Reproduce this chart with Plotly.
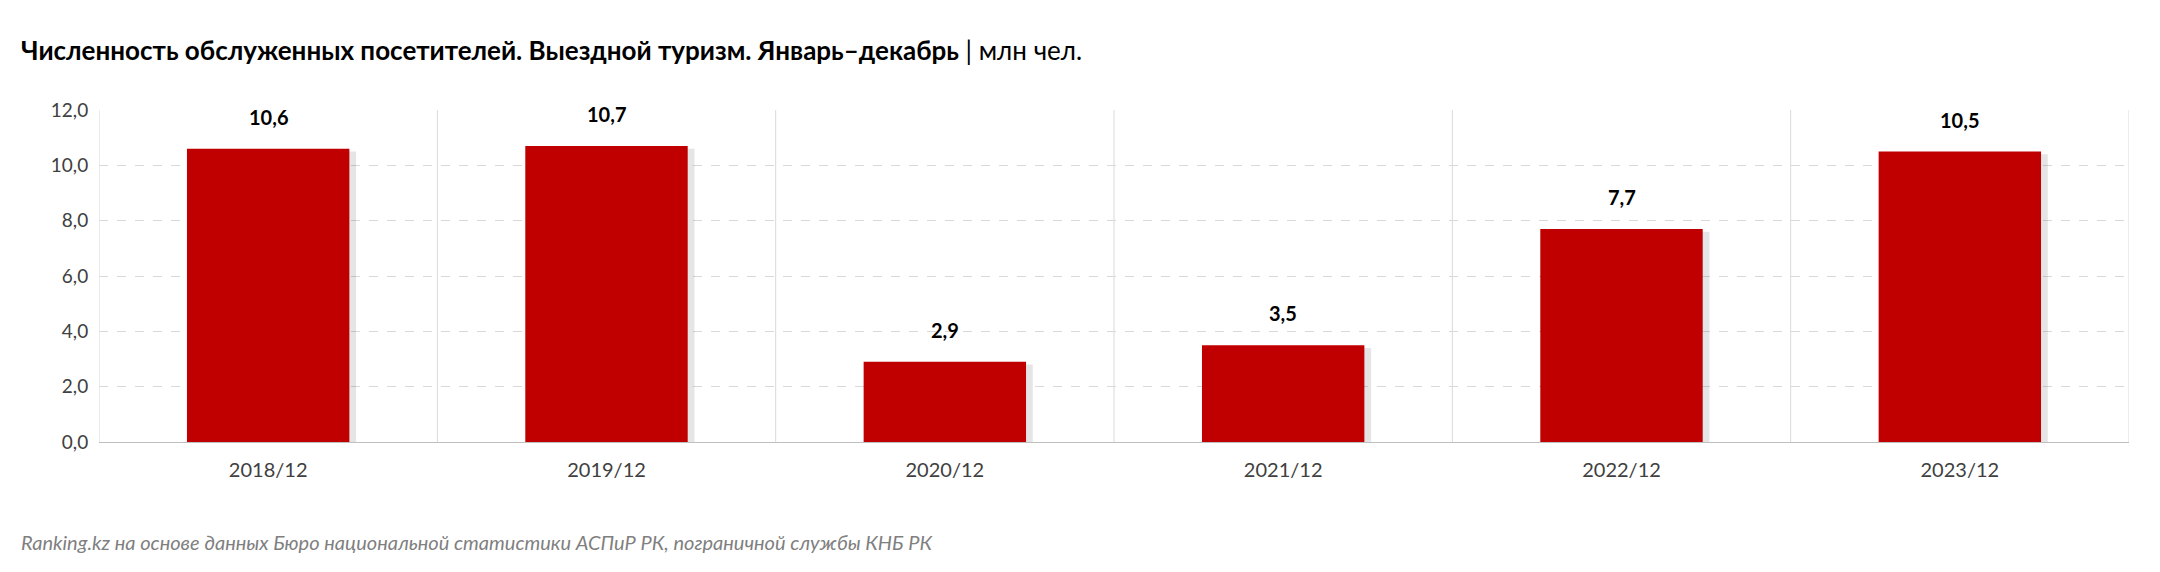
import plotly.graph_objects as go

categories = ["2018/12", "2019/12", "2020/12", "2021/12", "2022/12", "2023/12"]
values = [10.6, 10.7, 2.9, 3.5, 7.7, 10.5]
labels = ["10,6", "10,7", "2,9", "3,5", "7,7", "10,5"]
yticks = [0, 2, 4, 6, 8, 10, 12]
ytext = ["0,0", "2,0", "4,0", "6,0", "8,0", "10,0", "12,0"]

FONT = "Lato, Open Sans, sans-serif"
fig = go.Figure()
xs = list(range(len(categories)))
fig.add_trace(go.Bar(x=[x + 0.02 for x in xs], y=[v - 0.1 for v in values], width=0.48,
                     marker=dict(color="rgba(0,0,0,0.10)", line_width=0), hoverinfo="skip"))
fig.add_trace(go.Bar(x=xs, y=values, width=0.48, marker=dict(color="#C00000", line_width=0)))
shapes = []
for i in range(len(categories) + 1):
    shapes.append(dict(type="line", xref="x", yref="paper", x0=i - 0.5, x1=i - 0.5, y0=0, y1=1,
                       line=dict(color="#D9D9D9", width=1), layer="below"))
annotations = [
    dict(x=x, y=v, text="<b>" + t + "</b>", showarrow=False, yanchor="bottom", yshift=18,
         font=dict(size=20, color="#000000", family=FONT))
    for x, v, t in zip(xs, values, labels)
]
annotations += [
    dict(text="<b>Численность обслуженных посетителей. Выездной туризм. Январь–декабрь</b> | млн чел.",
         xref="paper", yref="paper", x=0, y=1, xanchor="left", yanchor="middle",
         font=dict(size=26, color="#000000", family=FONT), showarrow=False, xshift=-80, yshift=60),
    dict(text="<i>Ranking.kz на основе данных Бюро национальной статистики АСПиР РК, пограничной службы КНБ РК</i>",
         xref="paper", yref="paper", x=0, y=0, xanchor="left", yanchor="middle",
         font=dict(size=20, color="#7F7F7F", family=FONT), showarrow=False, xshift=-80, yshift=-100),
]
fig.update_layout(
    width=2160, height=572, barmode="overlay", showlegend=False,
    plot_bgcolor="white", paper_bgcolor="white",
    margin=dict(l=91, r=39, t=102, b=138),
    shapes=shapes, annotations=annotations,
    font=dict(family=FONT, color="#404040"),
    xaxis=dict(tickvals=xs, ticktext=categories, range=[-0.5, 5.5], showgrid=False,
               showline=True, linecolor="#BFBFBF", tickfont=dict(size=20, color="#404040"),
               ticks="outside", ticklen=10, tickcolor="rgba(0,0,0,0)"),
    yaxis=dict(range=[0, 12], tickvals=yticks, ticktext=ytext, showgrid=True, gridcolor="#D9D9D9",
               griddash="dash", zeroline=False, tickfont=dict(size=19, color="#404040"),
               ticks="outside", ticklen=6, tickcolor="rgba(0,0,0,0)"),
)
fig.write_html("out.html")
